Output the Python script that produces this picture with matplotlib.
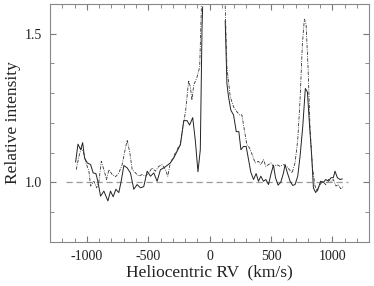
import numpy as np
import matplotlib
matplotlib.use('Agg')
import matplotlib.pyplot as plt
from matplotlib.ticker import MultipleLocator

plt.rcParams['font.family'] = ['Liberation Serif', 'DejaVu Serif']
plt.rcParams['axes.unicode_minus'] = False

# solid spectrum (left wing, up to the clipped core)
rv_solid_l = [-1092, -1073, -1051, -1035, -1019, -997, -970, -949, -927, -911, -889, -862,
              -829, -808, -786, -764, -740, -721, -699, -672, -645, -618, -591, -564, -537,
              -509, -482, -455, -428, -401, -374, -347, -320, -293, -266, -238, -211, -184,
              -163, -138, -117, -95, -76, -62, -57]
int_solid_l = [1.069, 1.129, 1.11, 1.134, 1.082, 1.066, 1.06, 1.032, 1.03, 1.004, 0.954, 0.971,
               0.938, 0.971, 0.952, 0.977, 0.966, 1.004, 1.057, 1.049, 1.032, 0.977, 0.993, 0.982,
               0.986, 1.038, 1.021, 1.032, 1.004, 1.043, 1.049, 1.057, 1.066, 1.082, 1.104, 1.127,
               1.208, 1.208, 1.193, 1.218, 1.143, 1.036, 1.11, 1.52, 1.59]
# solid spectrum (right wing)
rv_solid_r = [127, 141, 154, 173, 195, 217, 238, 255, 276, 298, 317, 336, 358, 379, 398, 417,
              439, 458, 480, 499, 520, 537, 558, 580, 602, 615, 634, 656, 677, 696, 718, 737,
              759, 780, 797, 813, 832, 846, 864, 886, 905, 927, 946, 968, 989, 1008, 1022,
              1041, 1062, 1081]
int_solid_r = [1.543, 1.332, 1.288, 1.243, 1.227, 1.171, 1.171, 1.11, 1.121, 1.121, 1.077, 1.034,
               1.01, 1.03, 1.004, 1.021, 1.004, 1.01, 0.993, 1.027, 1.058, 1.016, 0.991, 1.001,
               1.032, 1.06, 1.032, 1.004, 0.99, 0.993, 1.021, 1.088, 1.188, 1.316, 1.304, 1.199,
               1.088, 0.982, 0.966, 0.982, 1.004, 1.0, 1.01, 1.004, 1.016, 1.016, 1.038, 1.016,
               1.01, 1.012]

# dash-dot spectrum
rv_dd_l = [-1087, -1065, -1046, -1030, -1008, -984, -970, -943, -921, -902, -883, -862, -840,
           -821, -794, -767, -740, -713, -686, -672, -650, -631, -604, -577, -550, -523, -496,
           -469, -442, -415, -388, -360, -341, -320, -293, -266, -238, -217, -195, -171, -157,
           -144, -130, -103, -81, -68, -64]
int_dd_l = [1.043, 1.088, 1.116, 1.104, 1.066, 1.038, 0.988, 1.004, 0.982, 1.004, 1.071, 1.043,
            1.01, 1.043, 1.027, 1.019, 1.032, 1.06, 1.116, 1.143, 1.099, 1.043, 1.032, 1.021,
            1.027, 1.021, 1.032, 1.049, 1.038, 1.054, 1.06, 1.043, 1.021, 1.066, 1.088, 1.11,
            1.132, 1.188, 1.243, 1.343, 1.321, 1.277, 1.327, 1.354, 1.388, 1.577, 1.7]
rv_dd_r = [122, 127, 141, 168, 195, 222, 244, 263, 285, 304, 325, 347, 371, 398, 417, 439, 458,
           480, 499, 520, 547, 575, 602, 629, 650, 672, 696, 718, 737, 756, 772, 786, 802, 818,
           837, 859, 878, 900, 921, 946, 968, 989, 1008, 1030, 1049, 1068, 1089]
int_dd_r = [1.7, 1.593, 1.388, 1.288, 1.254, 1.238, 1.227, 1.227, 1.171, 1.127, 1.116, 1.093,
            1.066, 1.071, 1.06, 1.077, 1.054, 1.06, 1.066, 1.054, 1.06, 1.054, 1.06, 1.054, 1.043,
            1.032, 1.066, 1.143, 1.277, 1.466, 1.549, 1.533, 1.388, 1.188, 1.054, 0.988, 0.971,
            0.993, 1.004, 0.993, 1.01, 1.004, 1.01, 0.988, 0.993, 0.979, 0.986]

fig = plt.figure(figsize=(3.74, 2.86), dpi=100)
ax = fig.add_axes([0.134, 0.154, 0.853, 0.832])

ax.plot([-1170, 1130], [1.0, 1.0], color='#9a9a9a', lw=0.9, dashes=(5, 3))
ax.plot(rv_solid_l, int_solid_l, color='#222222', lw=0.7)
ax.plot(rv_solid_r, int_solid_r, color='#222222', lw=0.7)
ax.plot(rv_dd_l, int_dd_l, color='#333333', lw=0.6, dashes=(4, 1.5, 1, 1.5))
ax.plot(rv_dd_r, int_dd_r, color='#333333', lw=0.6, dashes=(4, 1.5, 1, 1.5))

ax.set_xlim(-1300, 1300)
ax.set_ylim(0.8, 1.6)
ax.xaxis.set_major_locator(MultipleLocator(500))
ax.xaxis.set_minor_locator(MultipleLocator(100))
ax.set_yticks([1.0, 1.5])
ax.yaxis.set_minor_locator(MultipleLocator(0.1))
ax.tick_params(which='both', direction='in', top=True, right=True, color='#777777',
               labelsize=10, pad=6, labelcolor='#222222')
ax.tick_params(which='major', length=4.5)
ax.tick_params(which='minor', length=3)
for s in ax.spines.values():
    s.set_color('#888888')
    s.set_linewidth(0.8)

ax.set_xlabel('Heliocentric RV  (km/s)', fontsize=12.5, labelpad=1, color='#222222')
ax.set_ylabel('Relative intensity', fontsize=12.5, color='#222222')
ax.yaxis.set_label_coords(-0.092, 0.5)

fig.savefig('out.png', dpi=100)
